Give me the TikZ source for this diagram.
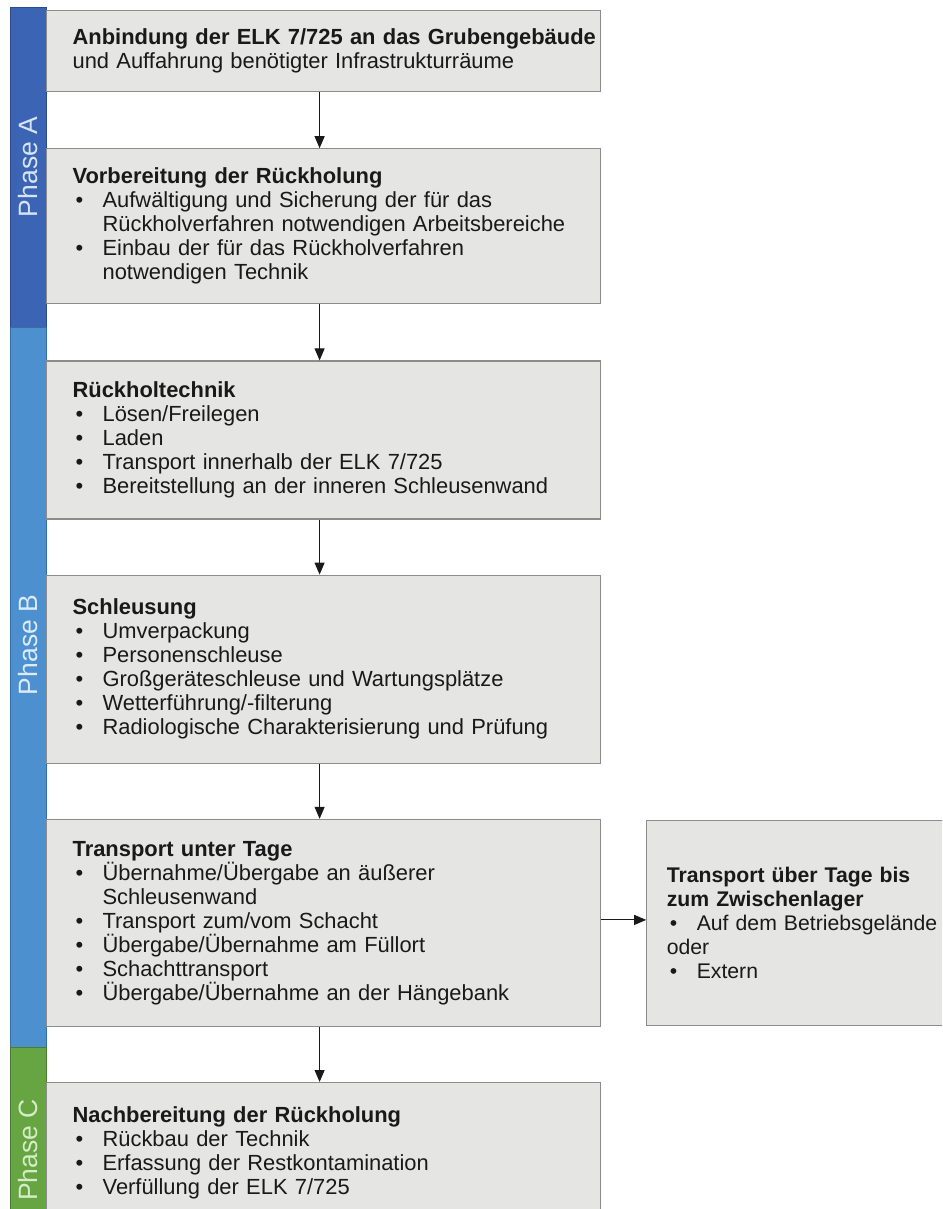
\documentclass[tikz,border=0pt]{standalone}
\usepackage{fontspec}
\setmainfont{Liberation Sans}
\usetikzlibrary{positioning, arrows.meta}

\definecolor{boxgray}{RGB}{229,229,228}
\definecolor{boxline}{RGB}{140,140,140}
\definecolor{textdark}{RGB}{25,25,25}
\definecolor{phaseA}{RGB}{60,100,180}
\definecolor{phaseAline}{RGB}{45,75,140}
\definecolor{phaseAtext}{RGB}{215,228,246}
\definecolor{phaseB}{RGB}{76,144,208}
\definecolor{phaseBline}{RGB}{55,110,165}
\definecolor{phaseBtext}{RGB}{220,235,249}
\definecolor{phaseC}{RGB}{102,165,66}
\definecolor{phaseCline}{RGB}{75,125,50}
\definecolor{phaseCtext}{RGB}{214,236,198}

\newcommand{\itm}[1]{\par\noindent\hangindent=30pt\hangafter=1\makebox[30pt][l]{\hspace{3pt}\textbullet}#1\par}

\begin{document}
\begin{tikzpicture}[x=1pt, y=-1pt, >={Triangle[length=12pt,width=10pt]},
    stage/.style={draw=boxline, line width=1.2pt, fill=boxgray, text=textdark,
      text width=502pt, inner xsep=26pt, align=left,
      font=\fontsize{21.9}{24}\selectfont},
    phasetext/.style={rotate=90, font=\fontsize{26.5}{28}\selectfont},
    flow/.style={->, line width=1pt, textdark}]

  \useasboundingbox (0,0) rectangle (942,1209);
  \clip (0,0) rectangle (942,1209);

  % phase bars
  \draw[phaseAline, fill=phaseA, line width=1pt] (10,8) rectangle (46,327);
  \draw[phaseBline, fill=phaseB, line width=1pt] (10,327) rectangle (46,1047);
  \draw[phaseCline, fill=phaseC, line width=1pt] (10,1047) rectangle (46,1220);
  \node[phasetext, text=phaseAtext] (pA) at (28,167) {Phase A};
  \node[phasetext, text=phaseBtext] (pB) at (28,645) {Phase B};
  \node[phasetext, text=phaseCtext] (pC) at (28,1150) {Phase C};

  \node[stage, anchor=north west, minimum height=81pt] (anb) at (46,10)
    {\mbox{\textbf{Anbindung der ELK 7/725 an das Grubengebäude}}\\
     und Auffahrung benötigter Infrastrukturräume};
  \node[stage, minimum height=155pt, below=56pt of anb] (vor)
    {\textbf{Vorbereitung der Rückholung}
     \itm{Aufwältigung und Sicherung der für das\newline Rückholverfahren notwendigen Arbeitsbereiche}
     \itm{Einbau der für das Rückholverfahren\newline notwendigen Technik}};
  \node[stage, minimum height=158pt, below=56pt of vor] (rueck)
    {\textbf{Rückholtechnik}
     \itm{Lösen/Freilegen}
     \itm{Laden}
     \itm{Transport innerhalb der ELK 7/725}
     \itm{Bereitstellung an der inneren Schleusenwand}};
  \node[stage, minimum height=188pt, below=55pt of rueck] (schl)
    {\textbf{Schleusung}
     \itm{Umverpackung}
     \itm{Personenschleuse}
     \itm{Großgeräteschleuse und Wartungsplätze}
     \itm{Wetterführung/-filterung}
     \itm{Radiologische Charakterisierung und Prüfung}};
  \node[stage, minimum height=207pt, below=55pt of schl] (utage)
    {\textbf{Transport unter Tage}
     \itm{Übernahme/Übergabe an äußerer\newline Schleusenwand}
     \itm{Transport zum/vom Schacht}
     \itm{Übergabe/Übernahme am Füllort}
     \itm{Schachttransport}
     \itm{Übergabe/Übernahme an der Hängebank}};
  \node[stage, minimum height=140pt, below=55pt of utage] (nach)
    {\textbf{Nachbereitung der Rückholung}
     \itm{Rückbau der Technik}
     \itm{Erfassung der Restkontamination}
     \itm{Verfüllung der ELK 7/725}};
  \node[stage, text width=300pt, inner xsep=20pt, minimum height=205pt,
        font=\fontsize{21.2}{24}\selectfont, right=45pt of utage] (otage)
    {\textbf{Transport über Tage bis\\ zum Zwischenlager}
     \itm{Auf dem Betriebsgelände}
     \noindent oder
     \itm{Extern}};

  \draw[flow] ([xshift=-4pt]anb.south) -- ([xshift=-4pt]vor.north);
  \draw[flow] ([xshift=-4pt]vor.south) -- ([xshift=-4pt]rueck.north);
  \draw[flow] ([xshift=-4pt]rueck.south) -- ([xshift=-4pt]schl.north);
  \draw[flow] ([xshift=-4pt]schl.south) -- ([xshift=-4pt]utage.north);
  \draw[flow] ([xshift=-4pt]utage.south) -- ([xshift=-4pt]nach.north);
  \draw[flow] ([yshift=3pt]utage.east) -- ([yshift=3pt]otage.west);
\end{tikzpicture}
\end{document}
